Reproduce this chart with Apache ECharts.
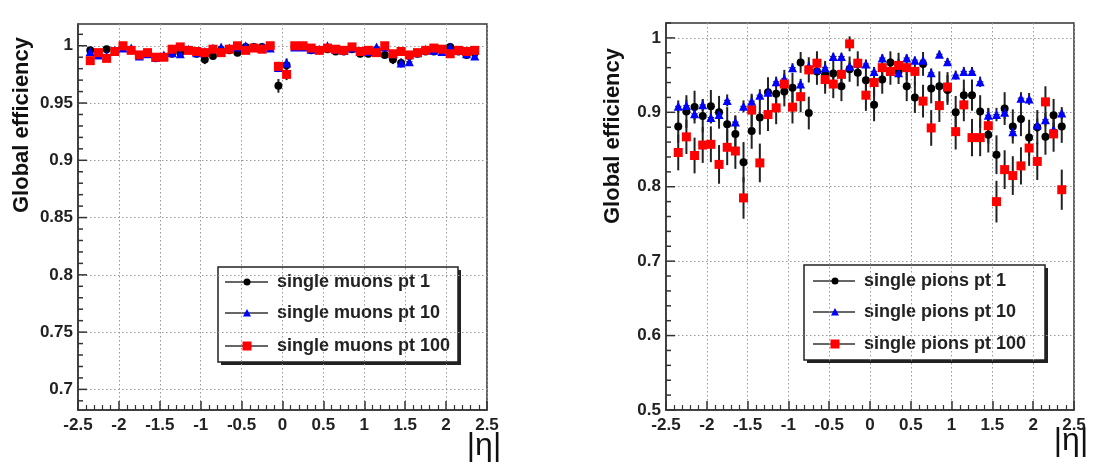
<!DOCTYPE html>
<html><head><meta charset="utf-8">
<script src="https://cdn.jsdelivr.net/npm/echarts@6/dist/echarts.min.js"></script>
<style>html,body{margin:0;padding:0;background:#fff}#c{width:1093px;height:465px}</style>
</head><body><div id="c"></div>
<script>
// bin centres in |eta|
const eta = [-2.35,-2.25,-2.15,-2.05,-1.95,-1.85,-1.75,-1.65,-1.55,-1.45,-1.35,-1.25,-1.15,-1.05,-0.95,-0.85,-0.75,-0.65,-0.55,-0.45,-0.35,-0.25,-0.15,-0.05,
             0.05,0.15,0.25,0.35,0.45,0.55,0.65,0.75,0.85,0.95,1.05,1.15,1.25,1.35,1.45,1.55,1.65,1.75,1.85,1.95,2.05,2.15,2.25,2.35];

// ---- left panel: single muons ----
const muonPt1 = [0.996,0.993,0.997,0.995,0.999,0.996,0.991,0.993,0.989,0.990,0.993,0.994,0.996,0.993,0.988,0.991,0.996,0.996,0.994,0.999,0.999,0.999,0.999,0.965,
                 0.983,0.999,0.999,0.996,0.996,0.997,0.995,0.995,0.997,0.993,0.993,0.996,0.992,0.988,0.985,0.991,0.993,0.995,0.995,0.996,0.999,0.995,0.992,0.994];
const muonPt10 = [0.995,0.992,0.991,0.996,0.998,0.998,0.991,0.993,0.990,0.992,0.994,0.993,0.997,0.994,0.995,0.998,0.999,0.998,0.999,1.000,0.999,0.999,0.998,0.981,
                  0.985,0.999,0.999,0.997,0.997,1.000,0.997,0.996,0.998,0.995,0.995,0.999,0.999,0.993,0.985,0.986,0.994,0.997,0.996,0.995,0.999,0.996,0.993,0.991];
const muonPt100 = [0.987,0.994,0.989,0.995,1.000,0.996,0.992,0.994,0.990,0.990,0.997,0.999,0.996,0.995,0.994,0.997,0.994,0.997,1.000,0.996,0.998,0.997,1.000,0.982,
                   0.975,1.000,1.000,0.998,0.996,0.998,0.997,0.996,0.999,0.995,0.996,0.994,1.000,0.993,0.995,0.992,0.994,0.996,0.998,0.997,0.993,0.996,0.995,0.996];
const muonErr1 = [0.003,0.003,0.003,0.003,0.002,0.003,0.003,0.003,0.003,0.003,0.003,0.003,0.003,0.003,0.004,0.003,0.003,0.003,0.003,0.002,0.002,0.002,0.002,0.006,
                  0.005,0.002,0.002,0.003,0.003,0.003,0.003,0.003,0.003,0.003,0.003,0.003,0.003,0.004,0.004,0.003,0.003,0.003,0.003,0.003,0.002,0.003,0.003,0.003];
const muonErr10 = [0.002,0.002,0.002,0.002,0.002,0.002,0.002,0.002,0.002,0.002,0.002,0.002,0.002,0.002,0.002,0.002,0.002,0.002,0.002,0.001,0.002,0.002,0.002,0.004,
                   0.004,0.002,0.002,0.002,0.002,0.001,0.002,0.002,0.002,0.002,0.002,0.002,0.002,0.002,0.003,0.003,0.002,0.002,0.002,0.002,0.002,0.002,0.002,0.002];
const muonErr100 = [0.003,0.002,0.003,0.002,0.001,0.002,0.002,0.002,0.002,0.002,0.002,0.002,0.002,0.002,0.002,0.002,0.002,0.002,0.001,0.002,0.002,0.002,0.001,0.004,
                    0.005,0.001,0.001,0.002,0.002,0.002,0.002,0.002,0.002,0.002,0.002,0.002,0.001,0.002,0.002,0.002,0.002,0.002,0.002,0.002,0.002,0.002,0.002,0.002];

// ---- right panel: single pions ----
const pionPt1 = [0.881,0.901,0.907,0.895,0.908,0.900,0.884,0.871,0.833,0.875,0.893,0.927,0.925,0.928,0.933,0.967,0.899,0.955,0.951,0.952,0.935,0.958,0.953,0.943,
                 0.910,0.944,0.967,0.955,0.935,0.920,0.965,0.932,0.935,0.930,0.900,0.923,0.923,0.901,0.870,0.843,0.905,0.881,0.891,0.866,0.880,0.867,0.896,0.881];
const pionPt10 = [0.908,0.909,0.898,0.910,0.893,0.897,0.916,0.887,0.908,0.915,0.923,0.927,0.941,0.945,0.960,0.938,0.962,0.958,0.960,0.975,0.975,0.962,0.966,0.965,
                  0.955,0.973,0.955,0.953,0.973,0.970,0.970,0.953,0.978,0.968,0.950,0.955,0.955,0.941,0.896,0.897,0.900,0.874,0.919,0.918,0.883,0.890,0.877,0.899];
const pionPt100 = [0.846,0.867,0.842,0.856,0.857,0.830,0.853,0.848,0.785,0.903,0.832,0.897,0.906,0.938,0.907,0.921,0.957,0.966,0.944,0.938,0.951,0.992,0.966,0.923,
                   0.940,0.960,0.955,0.963,0.960,0.955,0.915,0.879,0.909,0.934,0.874,0.910,0.866,0.866,0.882,0.780,0.823,0.815,0.828,0.852,0.834,0.914,0.871,0.796];
const pionErr1 = [0.022,0.022,0.022,0.022,0.022,0.022,0.023,0.024,0.027,0.024,0.023,0.020,0.020,0.020,0.020,0.014,0.022,0.018,0.018,0.018,0.020,0.017,0.018,0.019,
                  0.022,0.019,0.015,0.017,0.020,0.021,0.016,0.020,0.020,0.020,0.022,0.021,0.021,0.022,0.024,0.026,0.022,0.023,0.023,0.024,0.023,0.024,0.022,0.022];
const pionErr10 = [0.008,0.008,0.008,0.008,0.008,0.008,0.008,0.009,0.008,0.008,0.008,0.008,0.007,0.007,0.006,0.007,0.006,0.006,0.006,0.005,0.005,0.006,0.006,0.006,
                   0.006,0.005,0.006,0.006,0.005,0.005,0.005,0.006,0.005,0.005,0.006,0.006,0.006,0.007,0.009,0.009,0.009,0.009,0.008,0.008,0.009,0.009,0.009,0.008];
const pionErr100 = [0.024,0.023,0.024,0.024,0.024,0.026,0.024,0.024,0.028,0.022,0.026,0.022,0.022,0.019,0.022,0.021,0.017,0.016,0.019,0.019,0.018,0.010,0.016,0.021,
                    0.019,0.017,0.018,0.017,0.017,0.018,0.022,0.024,0.022,0.020,0.024,0.022,0.025,0.025,0.024,0.028,0.026,0.026,0.025,0.024,0.025,0.021,0.024,0.027];

const muonLabels = ['single muons pt 1','single muons pt 10','single muons pt 100'];
const pionLabels = ['single pions pt 1','single pions pt 10','single pions pt 100'];
const muonYTicks = [0.7,0.75,0.8,0.85,0.9,0.95,1];
const muonYMinor = [0.69,0.71,0.72,0.73,0.74,0.76,0.77,0.78,0.79,0.81,0.82,0.83,0.84,0.86,0.87,0.88,0.89,0.91,0.92,0.93,0.94,0.96,0.97,0.98,0.99,1.01];
const pionYTicks = [0.5,0.6,0.7,0.8,0.9,1];
const pionYMinor = [0.52,0.54,0.56,0.58,0.62,0.64,0.66,0.68,0.72,0.74,0.76,0.78,0.82,0.84,0.86,0.88,0.92,0.94,0.96,0.98,1.02];

const FONT = '"Liberation Sans", Arial, Helvetica, sans-serif';
const AX = '#333';
const colors = ['#000000','#0000ff','#ff0000'];
const symbols = ['circle','triangle','rect'];
const sizes = [8,9,9];

const chart = echarts.init(document.getElementById('c'), null, {renderer:'canvas'});

function errRender(params, api){
  const x = api.value(0), y = api.value(1), e = api.value(2);
  const p0 = api.coord([x, y - e]), p1 = api.coord([x, y + e]);
  const l = api.coord([x - 0.04, y]), r = api.coord([x + 0.04, y]);
  return {type:'group', children:[
    {type:'line', shape:{x1:p0[0],y1:p0[1],x2:p1[0],y2:p1[1]}, style:{stroke:'#222', lineWidth:2}},
    {type:'line', shape:{x1:l[0],y1:l[1],x2:r[0],y2:r[1]}, style:{stroke:'#222', lineWidth:1}}
  ]};
}
// y-axis ticks drawn inward from the left frame edge
function yTickRender(params, api){
  const v = api.value(0), len = api.value(1);
  const p = api.coord([-2.5, v]);
  return {type:'line', shape:{x1:p[0], y1:p[1], x2:p[0] + len, y2:p[1]}, style:{stroke:AX, lineWidth:1.5}};
}
const fmt = v => String(+(+v).toFixed(2));

function xAxisDef(gi){
  return {type:'value', gridIndex:gi, min:-2.5, max:2.5, interval:0.5,
    axisLine:{show:true, onZero:false, lineStyle:{color:AX, width:1.5}},
    axisTick:{show:true, inside:true, length:9, lineStyle:{color:AX, width:1.5}},
    minorTick:{show:true, splitNumber:5, length:5, lineStyle:{color:AX, width:1.2}},
    splitLine:{show:true, lineStyle:{color:'#999', type:[1.5,2.5], width:1}},
    axisLabel:{show:true, margin:7, color:'#222', fontFamily:FONT, fontWeight:'bold', fontSize:17, formatter:fmt}};
}
function yAxisDef(gi, min, max, ticks){
  return {type:'value', gridIndex:gi, min:min, max:max, position:'left',
    axisLine:{show:true, onZero:false, lineStyle:{color:AX, width:1.5}},
    axisTick:{show:false, customValues:ticks},
    splitLine:{show:true, lineStyle:{color:'#999', type:[1.5,2.5], width:1}},
    axisLabel:{show:true, margin:5, customValues:ticks, color:'#222', fontFamily:FONT, fontWeight:'bold', fontSize:17, formatter:fmt}};
}

const series = [];
function addPanel(gi, vals, errs, majors, minors){
  series.push({type:'custom', xAxisIndex:gi, yAxisIndex:gi, renderItem:yTickRender, clip:false, z:4, silent:true,
    data:majors.map(v=>[v, 9]).concat(minors.map(v=>[v, 5]))});
  for(let s=0;s<3;s++){
    const d = eta.map((x,i)=>[x, vals[s][i], errs[s][i]]);
    series.push({type:'custom', xAxisIndex:gi, yAxisIndex:gi, renderItem:errRender, data:d, clip:false, z:2, silent:true});
    series.push({type:'scatter', xAxisIndex:gi, yAxisIndex:gi, data:eta.map((x,i)=>[x, vals[s][i]]),
      symbol:symbols[s], symbolSize:sizes[s], itemStyle:{color:colors[s], opacity:1}, clip:false, z:3, silent:true});
  }
}
addPanel(0, [muonPt1, muonPt10, muonPt100], [muonErr1, muonErr10, muonErr100], muonYTicks, muonYMinor);
addPanel(1, [pionPt1, pionPt10, pionPt100], [pionErr1, pionErr10, pionErr100], pionYTicks, pionYMinor);

function legendGraphic(x, y, w, h, rows, labels, lx0, lx1, mx, tx){
  const ch = [
    {type:'rect', shape:{x:x+3, y:y+3, width:w, height:h}, style:{fill:'#222'}},
    {type:'rect', shape:{x:x, y:y, width:w, height:h}, style:{fill:'#fff', stroke:'#222', lineWidth:1.5}}
  ];
  for(let s=0;s<3;s++){
    const yy = rows[s];
    ch.push({type:'line', shape:{x1:lx0, y1:yy, x2:lx1, y2:yy}, style:{stroke:'#333', lineWidth:1.5}});
    if(s===0) ch.push({type:'circle', shape:{cx:mx, cy:yy, r:3.5}, style:{fill:colors[0]}});
    if(s===1) ch.push({type:'polygon', shape:{points:[[mx-4,yy+3.5],[mx+4,yy+3.5],[mx,yy-4]]}, style:{fill:colors[1]}});
    if(s===2) ch.push({type:'rect', shape:{x:mx-4.5, y:yy-4.5, width:9, height:9}, style:{fill:colors[2]}});
    ch.push({type:'text', x:tx, y:yy, style:{text:labels[s], fill:'#222', font:'bold 18px '+FONT, verticalAlign:'middle', align:'left'}});
  }
  return {type:'group', children:ch, z:10};
}

const option = {
  animation:false,
  backgroundColor:'#fff',
  grid:[
    {left:78, top:24, width:409, height:386, show:true, borderColor:AX, borderWidth:1.5, backgroundColor:'transparent'},
    {left:666, top:23, width:408, height:387, show:true, borderColor:AX, borderWidth:1.5, backgroundColor:'transparent'}
  ],
  xAxis:[xAxisDef(0), xAxisDef(1)],
  yAxis:[yAxisDef(0, 0.682, 1.019, muonYTicks), yAxisDef(1, 0.5, 1.02, pionYTicks)],
  series:series,
  graphic:[
    {type:'text', x:22, y:125, rotation:Math.PI/2, style:{text:'Global efficiency', fill:'#111', font:'bold 22px '+FONT, align:'center', verticalAlign:'middle'}},
    {type:'text', x:613, y:136, rotation:Math.PI/2, style:{text:'Global efficiency', fill:'#111', font:'bold 22px '+FONT, align:'center', verticalAlign:'middle'}},
    {type:'text', x:484, y:446, style:{text:'|η|', fill:'#111', font:'32px '+FONT, align:'center', verticalAlign:'middle'}},
    {type:'text', x:1071, y:441, style:{text:'|η|', fill:'#111', font:'32px '+FONT, align:'center', verticalAlign:'middle'}},
    legendGraphic(218, 267, 240, 95, [282, 313, 346], muonLabels, 225, 268, 247, 277),
    legendGraphic(804, 265, 241, 95, [281, 312, 344], pionLabels, 813, 855, 835, 864)
  ]
};
chart.setOption(option);
</script>
</body></html>
